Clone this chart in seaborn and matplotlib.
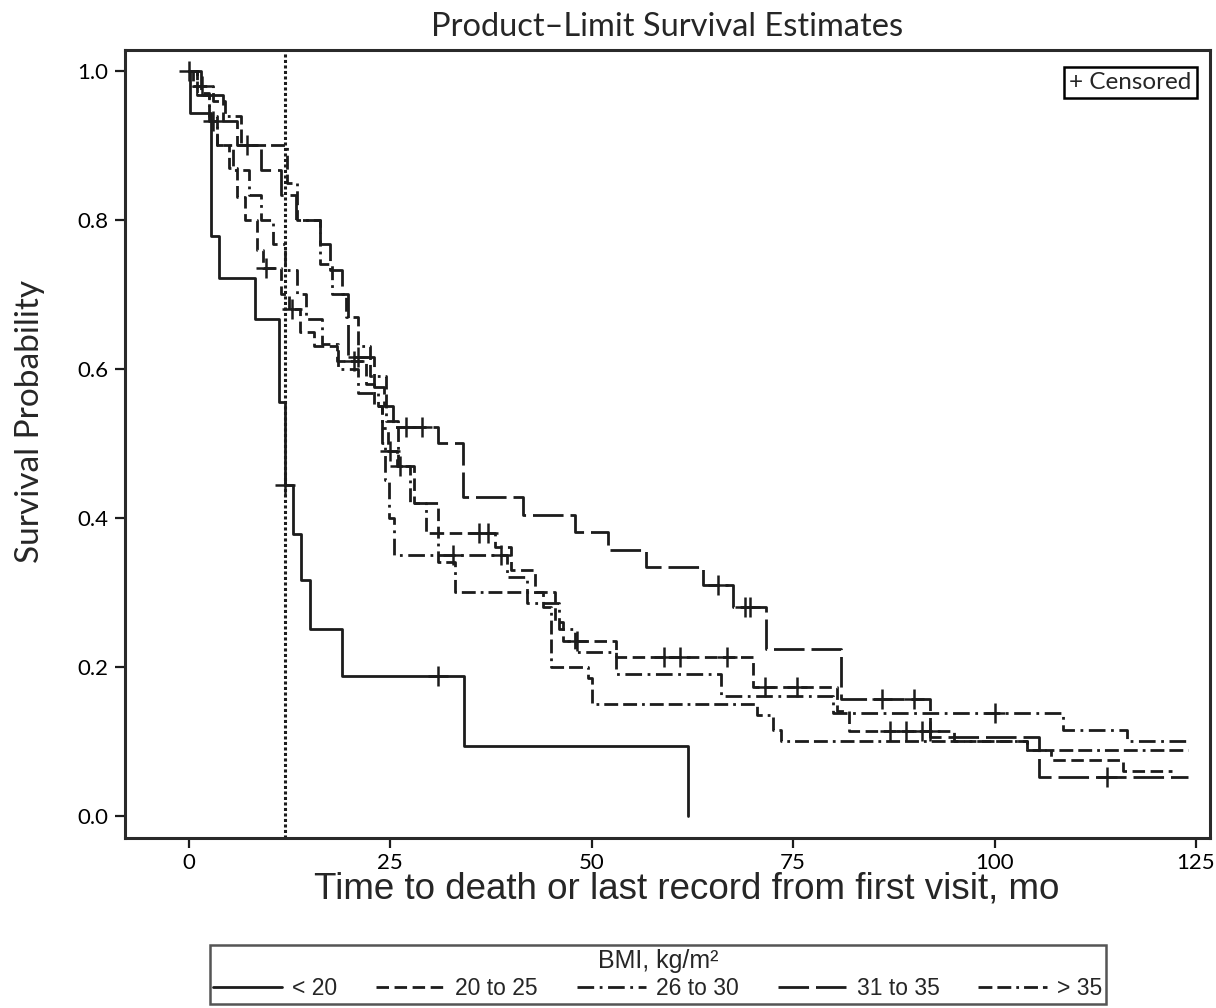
import numpy as np
import pandas as pd
import matplotlib
matplotlib.use("Agg")
import matplotlib.pyplot as plt
from matplotlib.lines import Line2D
import seaborn as sns

# ---- Kaplan-Meier step data by BMI group (event times in months, survival after each event) ----
groups = ["< 20", "20 to 25", "26 to 30", "31 to 35", "> 35"]

t_lt20 = [0.2, 2.8, 3.8, 8.2, 11.2, 12.0, 12.9, 14.0, 15.0, 19.0, 34.2, 62.0]
s_lt20 = [0.944, 0.778, 0.722, 0.667, 0.556, 0.444, 0.378, 0.316, 0.251, 0.188, 0.094, 0.0]
c_lt20 = [12.0, 31.0]
end_lt20 = 62.0

t_20_25 = [1.0, 2.5, 3.5, 5.0, 6.0, 7.0, 8.5, 9.2, 11.5, 12.5, 13.8, 15.5, 18.4, 22.0, 23.0,
           24.0, 24.7, 25.8, 28.0, 31.0, 38.0, 40.0, 43.0, 45.5, 46.5, 53.0, 70.0, 80.5, 82.0,
           95.0, 104.0, 107.0, 116.0]
s_20_25 = [0.97, 0.94, 0.90, 0.87, 0.83, 0.80, 0.76, 0.735, 0.70, 0.68, 0.65, 0.63, 0.61, 0.58, 0.55,
           0.52, 0.49, 0.47, 0.42, 0.38, 0.36, 0.33, 0.30, 0.26, 0.235, 0.213, 0.173, 0.14, 0.113,
           0.10, 0.088, 0.075, 0.06]
c_20_25 = [9.6, 12.8, 20.5, 25.0, 26.2, 36.0, 37.2, 48.2, 59.0, 61.0, 66.8, 71.5, 75.5, 87.0, 89.0, 91.0, 92.0]
end_20_25 = 122.0

t_26_30 = [1.0, 2.5, 3.5, 5.5, 7.5, 9.0, 10.5, 12.0, 13.5, 14.5, 16.5, 18.5, 21.0, 23.5, 24.0,
           24.4, 24.8, 25.5, 39.5, 42.0, 46.0, 48.0, 53.0, 66.0, 80.0, 108.5, 116.5]
s_26_30 = [0.967, 0.933, 0.90, 0.867, 0.833, 0.80, 0.767, 0.733, 0.70, 0.667, 0.633, 0.60, 0.567, 0.55, 0.50,
           0.45, 0.40, 0.35, 0.32, 0.285, 0.25, 0.22, 0.19, 0.16, 0.138, 0.115, 0.10]
c_26_30 = [3.0, 32.8, 38.8, 100.0]
end_26_30 = 124.0

t_31_35 = [1.5, 4.2, 6.0, 9.0, 11.5, 13.3, 16.3, 17.5, 19.0, 19.8, 23.0, 24.2, 25.3, 31.0, 34.0,
           41.5, 48.0, 52.0, 56.8, 63.8, 67.5, 71.7, 81.0, 92.0, 105.5]
s_31_35 = [0.967, 0.933, 0.90, 0.867, 0.833, 0.80, 0.767, 0.733, 0.70, 0.616, 0.575, 0.55, 0.522, 0.50, 0.428,
           0.404, 0.381, 0.357, 0.334, 0.31, 0.28, 0.224, 0.157, 0.105, 0.052]
c_31_35 = [0.0, 21.0, 27.0, 28.9, 65.7, 69.0, 69.6, 86.0, 90.0, 114.0]
end_31_35 = 124.0

t_gt35 = [0.5, 3.0, 4.5, 6.5, 12.2, 13.4, 16.3, 17.8, 19.5, 21.0, 22.5, 24.5, 26.0, 27.5, 29.5,
          31.0, 33.0, 44.0, 45.0, 49.5, 50.0, 70.5, 72.5, 73.5, 104.0]
s_gt35 = [0.98, 0.96, 0.94, 0.90, 0.85, 0.80, 0.74, 0.70, 0.67, 0.63, 0.59, 0.53, 0.47, 0.42, 0.38,
          0.34, 0.30, 0.28, 0.20, 0.185, 0.15, 0.135, 0.115, 0.10, 0.088]
c_gt35 = [1.6, 7.3]
end_gt35 = 124.0

event_times = [t_lt20, t_20_25, t_26_30, t_31_35, t_gt35]
survival = [s_lt20, s_20_25, s_26_30, s_31_35, s_gt35]
censored = [c_lt20, c_20_25, c_26_30, c_31_35, c_gt35]
last_followup = [end_lt20, end_20_25, end_26_30, end_31_35, end_gt35]

# ---- build tidy frames ----
curve_rows, cens_rows = [], []
for g, tt, ss, cc, te in zip(groups, event_times, survival, censored, last_followup):
    times = [0.0] + list(tt)
    surv = [1.0] + list(ss)
    if te > times[-1]:
        times.append(te)
        surv.append(surv[-1])
    for a, b in zip(times, surv):
        curve_rows.append({"group": g, "time": a, "surv": b})
    times_arr = np.array(times)
    surv_arr = np.array(surv)
    for c in cc:
        idx = np.searchsorted(times_arr, c, side="right") - 1
        cens_rows.append({"group": g, "time": c, "surv": surv_arr[idx]})
curves = pd.DataFrame(curve_rows)
cens = pd.DataFrame(cens_rows)

dash_map = {
    "< 20": "",
    "20 to 25": (4.5, 2),
    "26 to 30": (6, 2, 1, 2),
    "31 to 35": (11, 2.5),
    "> 35": (5, 1.8, 5, 1.8, 1, 1.8),
}
ink = "#1c1c1c"
palette = {g: ink for g in groups}

sns.set_theme(style="white")
plt.rcParams["font.family"] = ["Lato", "DejaVu Sans"]

fig = plt.figure(figsize=(12.16, 10.08), dpi=100)
ax = fig.add_axes([0.1028, 0.1687, 0.892, 0.7817])

sns.lineplot(data=curves, x="time", y="surv", hue="group", style="group",
             hue_order=groups, style_order=groups, palette=palette, dashes=dash_map,
             estimator=None, errorbar=None, sort=False, drawstyle="steps-post",
             linewidth=2.0, legend=False, ax=ax)
sns.scatterplot(data=cens, x="time", y="surv", marker="+", s=200, color=ink,
                linewidth=1.8, legend=False, ax=ax, zorder=3)

ax.axvline(12, color=ink, linestyle=(0, (1, 0.8)), linewidth=2.2, zorder=1)

ax.set_xlim(-7.9, 126.7)
ax.set_ylim(-0.03, 1.028)
ax.set_xticks([0, 25, 50, 75, 100, 125])
ax.set_yticks([0.0, 0.2, 0.4, 0.6, 0.8, 1.0])
ax.set_yticklabels(["0.0", "0.2", "0.4", "0.6", "0.8", "1.0"])
ax.tick_params(axis="both", direction="out", length=7, width=1.6, colors=ink,
               labelcolor="black", labelsize=16, left=True, bottom=True)
ax.tick_params(axis="x", pad=4)
ax.tick_params(axis="y", pad=5)
for sp in ax.spines.values():
    sp.set_linewidth(2.2)
    sp.set_color("#2a2a2a")

ax.set_xlabel("Time to death or last record from first visit, mo",
              family="Liberation Sans", fontsize=26.5)
ax.xaxis.set_label_coords(0.518, -0.043)
ax.set_ylabel("Survival Probability", fontsize=24)
ax.yaxis.set_label_coords(-0.074, 0.528)
ax.set_title("Product–Limit Survival Estimates", fontsize=23.5, pad=10)

ax.text(0.983, 0.972, "+ Censored", transform=ax.transAxes, ha="right", va="top",
        fontsize=17.5, bbox=dict(boxstyle="square,pad=0.22", fc="white", ec="black", lw=1.8))

handles = []
for g in groups:
    h = Line2D([0], [0], color=ink, lw=2.0)
    if dash_map[g]:
        h.set_dashes(dash_map[g])
    handles.append(h)
leg = fig.legend(handles, groups, loc="lower center", bbox_to_anchor=(0.541, -0.007),
                 ncol=5, title="BMI, kg/m²", frameon=True, fancybox=False,
                 edgecolor="#2a2a2a", handlelength=3.0, handletextpad=0.45,
                 columnspacing=1.7, borderpad=0.15, labelspacing=0.2,
                 prop={"family": "Liberation Sans", "size": 16.5})
leg.get_title().set_family("Liberation Sans")
leg.get_title().set_fontsize(18)
leg.get_frame().set_linewidth(1.8)

fig.savefig("out.png", dpi=100, facecolor="white")
